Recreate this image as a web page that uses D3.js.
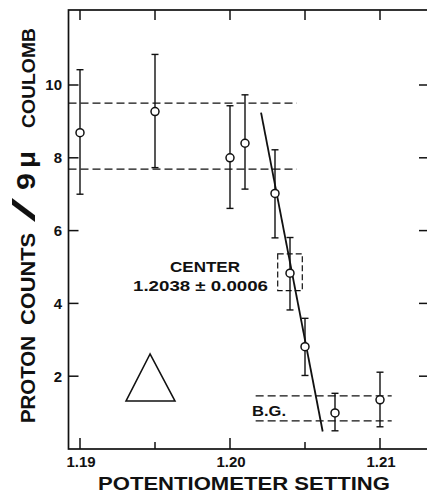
<!DOCTYPE html>
<html>
<head>
<meta charset="utf-8">
<script src="https://cdn.jsdelivr.net/npm/d3@7"></script>
<style>
  html, body { margin: 0; padding: 0; background: #fff; }
  svg { display: block; }
  text { font-family: "Liberation Sans", Arial, sans-serif; fill: #111; }
</style>
</head>
<body>
<svg id="chart" width="427" height="495"></svg>
<script>
// --- data ---
const settings = [1.190, 1.195, 1.200, 1.2010, 1.2030, 1.2040, 1.2050, 1.2070, 1.210];
const counts   = [8.69, 9.27, 8.00, 8.40, 7.02, 4.83, 2.81, 0.99, 1.35];
const errHigh  = [10.42, 10.84, 9.43, 9.73, 8.22, 5.81, 3.59, 1.53, 2.11];
const errLow   = [7.00, 7.73, 6.61, 7.14, 5.80, 3.82, 2.02, 0.50, 0.61];

// dashed bands: [level, xStart, xEnd]
const plateauBand = [[9.50, 1.1892, 1.20445], [7.69, 1.1892, 1.20445]];
const bgBand      = [[1.46, 1.20171, 1.21078], [0.77, 1.20171, 1.21078]];

// fitted edge line
const fitLine = [[1.20207, 9.24], [1.20618, 0.48]];

// center uncertainty box [x0, x1, y0, y1]
const centerBox = [1.20318, 1.20482, 4.35, 5.36];

// triangle symbol
const triangle = [[1.19467, 2.61], [1.19307, 1.32], [1.19633, 1.32]];

const xMajor = [1.19, 1.20, 1.21];
const xMinor = [1.195, 1.205];
const yTicks = [2, 4, 6, 8, 10];

const svg = d3.select("#chart");

// frame edges (pixels)
const frameL = 68.5, frameR = 428, frameT = 10, frameB = 449;

const x = d3.scaleLinear().domain([1.19, 1.21]).range([80, 380]);
const y = d3.scaleLinear().domain([0, 10]).range([449, 85]);

// frame
svg.append("rect")
  .attr("x", frameL).attr("y", frameT)
  .attr("width", frameR - frameL).attr("height", frameB - frameT)
  .attr("fill", "none").attr("stroke", "#111").attr("stroke-width", 1.7);

// inward ticks on all four sides
const ticks = svg.append("g").attr("stroke", "#111").attr("stroke-width", 1.5);
const xTickSet = xMajor.map(v => ({ v, len: 11 })).concat(xMinor.map(v => ({ v, len: 7 })));
ticks.selectAll("line.bt").data(xTickSet).join("line").attr("class", "bt")
  .attr("x1", d => x(d.v)).attr("x2", d => x(d.v))
  .attr("y1", frameB).attr("y2", d => frameB - d.len);
ticks.selectAll("line.tt").data(xMajor.concat(xMinor)).join("line").attr("class", "tt")
  .attr("x1", d => x(d)).attr("x2", d => x(d))
  .attr("y1", frameT).attr("y2", frameT + 10);
ticks.selectAll("line.lt").data(yTicks).join("line").attr("class", "lt")
  .attr("x1", frameL).attr("x2", frameL + 10)
  .attr("y1", d => y(d)).attr("y2", d => y(d));
ticks.selectAll("line.rt").data(yTicks).join("line").attr("class", "rt")
  .attr("x1", frameR).attr("x2", frameR - 9)
  .attr("y1", d => y(d)).attr("y2", d => y(d));

// tick labels
svg.append("g").selectAll("text").data(xMajor).join("text")
  .attr("x", d => x(d) + 1).attr("y", 467)
  .attr("text-anchor", "middle").attr("font-size", 15).attr("font-weight", "bold")
  .text(d3.format(".2f"));
svg.append("g").selectAll("text").data(yTicks).join("text")
  .attr("x", 62).attr("y", d => y(d)).attr("dy", "0.36em")
  .attr("text-anchor", "end").attr("font-size", 15).attr("font-weight", "bold")
  .text(d3.format("d"));

// dashed bands
svg.append("g").selectAll("line")
  .data(plateauBand.concat(bgBand))
  .join("line")
  .attr("x1", d => Math.max(x(d[1]), frameL))
  .attr("x2", d => x(d[2]))
  .attr("y1", d => y(d[0]))
  .attr("y2", d => y(d[0]))
  .attr("stroke", "#111")
  .attr("stroke-width", 1.3)
  .attr("stroke-dasharray", "8,4");

// center box
svg.append("rect")
  .attr("x", x(centerBox[0]))
  .attr("y", y(centerBox[3]))
  .attr("width", x(centerBox[1]) - x(centerBox[0]))
  .attr("height", y(centerBox[2]) - y(centerBox[3]))
  .attr("fill", "none")
  .attr("stroke", "#111")
  .attr("stroke-width", 1.2)
  .attr("stroke-dasharray", "6,3");

// fitted line
svg.append("path")
  .attr("d", d3.line().x(d => x(d[0])).y(d => y(d[1]))(fitLine))
  .attr("fill", "none")
  .attr("stroke", "#111")
  .attr("stroke-width", 1.8);

// error bars
const pts = settings.map((s, i) => ({ s, c: counts[i], hi: errHigh[i], lo: errLow[i] }));
const eb = svg.append("g").attr("stroke", "#111").attr("stroke-width", 1.4);
eb.selectAll("line.v").data(pts).join("line").attr("class", "v")
  .attr("x1", d => x(d.s)).attr("x2", d => x(d.s))
  .attr("y1", d => y(d.hi)).attr("y2", d => y(d.lo));
eb.selectAll("line.capHi").data(pts).join("line").attr("class", "capHi")
  .attr("x1", d => x(d.s) - 3.5).attr("x2", d => x(d.s) + 3.5)
  .attr("y1", d => y(d.hi)).attr("y2", d => y(d.hi));
eb.selectAll("line.capLo").data(pts).join("line").attr("class", "capLo")
  .attr("x1", d => x(d.s) - 3.5).attr("x2", d => x(d.s) + 3.5)
  .attr("y1", d => y(d.lo)).attr("y2", d => y(d.lo));

// points
svg.append("g").selectAll("circle").data(pts).join("circle")
  .attr("cx", d => x(d.s)).attr("cy", d => y(d.c)).attr("r", 4)
  .attr("fill", "#fff").attr("stroke", "#111").attr("stroke-width", 1.5);

// triangle
svg.append("path")
  .attr("d", d3.line().x(d => x(d[0])).y(d => y(d[1]))(triangle) + "Z")
  .attr("fill", "none").attr("stroke", "#111").attr("stroke-width", 1.6)
  .attr("stroke-linejoin", "miter");

// annotations
function fitText(txt, x0, baseline, len, size) {
  return svg.append("text")
    .attr("x", x0).attr("y", baseline)
    .attr("font-size", size)
    .attr("font-weight", "bold")
    .attr("textLength", len)
    .attr("lengthAdjust", "spacingAndGlyphs")
    .text(txt);
}
fitText("CENTER", 170, 272, 70, 15);
fitText("1.2038 \u00b1 0.0006", 133, 290.5, 135, 15);
fitText("B.G.", 252, 416, 34, 14);

// x axis title
fitText("POTENTIOMETER SETTING", 98, 490, 292, 17.5);

// y axis title, built from segments of different sizes (reads bottom to top)
const yTitle = [
  ["PROTON", 423, 87, 20, "bold"],
  ["COUNTS", 325, 92, 20, "bold"],
  ["/", 222, 24, 31, "normal"],
  ["9", 190, 17, 25, "bold"],
  ["\u03bc", 168, 17, 25, "bold"],
  ["COULOMB", 128, 100, 19, "bold"]
];
svg.append("g").selectAll("text").data(yTitle).join("text")
  .attr("transform", d => `translate(35,${d[1]}) rotate(-90)`)
  .attr("font-size", d => d[3])
  .attr("font-weight", d => d[4])
  .attr("textLength", d => d[2])
  .attr("lengthAdjust", "spacingAndGlyphs")
  .text(d => d[0]);
</script>
</body>
</html>
